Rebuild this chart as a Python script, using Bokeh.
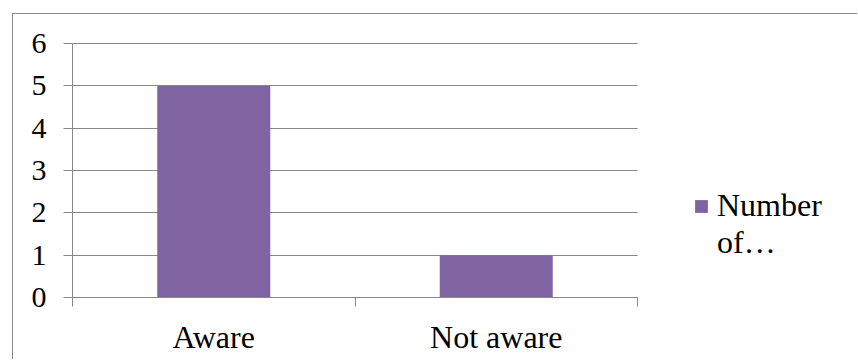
from bokeh.plotting import figure
from bokeh.models import (Range1d, FixedTicker, LinearAxis, Legend, LegendItem, Grid)
from bokeh.embed import file_html
from bokeh.resources import INLINE
import numpy as np

categories = ["Aware", "Not aware"]
values = [5, 1]
series_name_lines = ["Number", "of\u2026"]
y_ticks = [0, 1, 2, 3, 4, 5, 6]

BAR = "#8064A2"
GRAY = "#878787"
FONT = "Liberation Serif"

n = len(categories)
xs = np.arange(n) + 0.5

# plotting area spans 565 px of an 786 px wide frame (legend sits in the rest)
p = figure(width=845, height=346, output_backend="svg", toolbar_location=None,
           x_range=Range1d(0, n * 786 / 565), y_range=Range1d(0, 6.05),
           x_axis_type=None, y_axis_type=None,
           min_border_left=59, min_border_right=0, min_border_top=27, min_border_bottom=63)
p.margin = (13, 0, 0, 12)
p.styles = {"border-left": f"1px solid {GRAY}", "border-top": f"1px solid {GRAY}"}
p.outline_line_color = None
p.background_fill_color = "white"
p.border_fill_color = "white"

# horizontal gridlines limited to the plotting area
if "cross_bounds" in Grid.properties():
    g = Grid(dimension=1, ticker=FixedTicker(ticks=y_ticks), grid_line_color=GRAY,
             cross_bounds=(0, n))
    p.add_layout(g)
else:
    p.segment(x0=[0] * len(y_ticks), x1=[n] * len(y_ticks), y0=y_ticks, y1=y_ticks,
              line_color=GRAY, line_width=1)

r = p.vbar(x=xs, top=values, width=0.4, fill_color=BAR, line_color=None)
r_blank = p.vbar(x=xs, top=values, width=0.4, fill_alpha=0, line_alpha=0)

yaxis = LinearAxis(ticker=FixedTicker(ticks=y_ticks, minor_ticks=[]), bounds=(0, 6))
yaxis.axis_line_color = GRAY
yaxis.major_tick_line_color = GRAY
yaxis.major_tick_out = 9
yaxis.major_tick_in = 0
yaxis.major_label_standoff = 17
yaxis.major_label_text_font = FONT
yaxis.major_label_text_font_size = "30px"
yaxis.major_label_text_color = "black"
p.add_layout(yaxis, "left")

xaxis = LinearAxis(ticker=FixedTicker(ticks=list(xs), minor_ticks=list(range(n + 1))),
                   bounds=(0, n))
xaxis.major_label_overrides = {float(x): c for x, c in zip(xs, categories)}
xaxis.axis_line_color = GRAY
xaxis.major_tick_line_color = None
xaxis.major_tick_out = 0
xaxis.major_tick_in = 0
xaxis.minor_tick_line_color = GRAY
xaxis.minor_tick_out = 9
xaxis.minor_tick_in = 0
xaxis.major_label_standoff = 12
xaxis.major_label_text_font = FONT
xaxis.major_label_text_font_size = "32px"
xaxis.major_label_text_color = "black"
p.add_layout(xaxis, "below")

legend = Legend(items=[LegendItem(label=series_name_lines[0], renderers=[r]),
                       LegendItem(label=series_name_lines[1], renderers=[r_blank])],
                location=(621, 36), padding=0, margin=0, spacing=0,
                glyph_width=16, glyph_height=16, label_standoff=8,
                label_text_font=FONT, label_text_font_size="32px",
                label_text_color="black",
                border_line_color=None, background_fill_alpha=0)
p.add_layout(legend, "center")

open("out.html", "w").write(file_html(p, INLINE))
